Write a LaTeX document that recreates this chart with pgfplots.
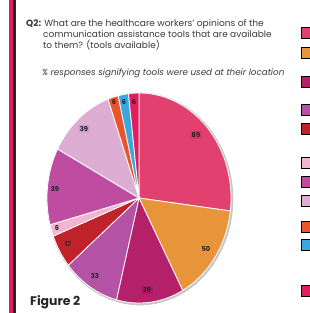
\documentclass[border=0pt]{standalone}
\usepackage{pgfplots}
\pgfplotsset{compat=1.18}
\usepackage{fontspec}
\setmainfont{Poppins}
\definecolor{s1}{HTML}{E2416F}
\definecolor{s2}{HTML}{E8943A}
\definecolor{s3}{HTML}{B5206A}
\definecolor{s4}{HTML}{B452A5}
\definecolor{s5}{HTML}{C0222B}
\definecolor{s6}{HTML}{F2B5CF}
\definecolor{s7}{HTML}{BE4CA0}
\definecolor{s8}{HTML}{DDADD3}
\definecolor{s9}{HTML}{E8542E}
\definecolor{s10}{HTML}{3AA8DE}
\definecolor{s11}{HTML}{E11D5E}
\definecolor{txt}{HTML}{3A3A3A}
\definecolor{bar}{HTML}{262626}
\begin{document}
\begin{tikzpicture}
\begin{axis}[
  scale only axis, width=310bp, height=313bp,
  xmin=0, xmax=310, ymin=0, ymax=313, y dir=reverse,
  hide axis, clip=true,
]
% left decorative bars (page border of the source)
\addplot[fill=s11, draw=s11, line width=0.5bp] coordinates {(9.5,-2) (12,-2) (12,315) (9.5,315)} -- cycle;
\addplot[fill=bar, draw=bar, line width=0.5bp] coordinates {(13,-2) (15.5,-2) (15.5,315) (13,315)} -- cycle;
% pie rim / shadow
\addplot[draw=black!22, line width=2.6bp, domain=0:360, samples=180] ({140+92*cos(x)},{199-105*sin(x)});
% slices (values: 89,50,39,33,17,6,39,39,6,6,6; total 330), clockwise from top
\addplot[fill=s1, draw=white, line width=0.8bp, domain={90-360*89/330}:{90-360*0/330}, samples=80] ({139+92*cos(x)},{198-105*sin(x)}) -- (axis cs:139,198) -- cycle;
\addplot[fill=s2, draw=white, line width=0.8bp, domain={90-360*139/330}:{90-360*89/330}, samples=60] ({139+92*cos(x)},{198-105*sin(x)}) -- (axis cs:139,198) -- cycle;
\addplot[fill=s3, draw=white, line width=0.8bp, domain={90-360*178/330}:{90-360*139/330}, samples=50] ({139+92*cos(x)},{198-105*sin(x)}) -- (axis cs:139,198) -- cycle;
\addplot[fill=s4, draw=white, line width=0.8bp, domain={90-360*211/330}:{90-360*178/330}, samples=40] ({139+92*cos(x)},{198-105*sin(x)}) -- (axis cs:139,198) -- cycle;
\addplot[fill=s5, draw=white, line width=0.8bp, domain={90-360*228/330}:{90-360*211/330}, samples=30] ({139+92*cos(x)},{198-105*sin(x)}) -- (axis cs:139,198) -- cycle;
\addplot[fill=s6, draw=white, line width=0.8bp, domain={90-360*234/330}:{90-360*228/330}, samples=12] ({139+92*cos(x)},{198-105*sin(x)}) -- (axis cs:139,198) -- cycle;
\addplot[fill=s7, draw=white, line width=0.8bp, domain={90-360*273/330}:{90-360*234/330}, samples=50] ({139+92*cos(x)},{198-105*sin(x)}) -- (axis cs:139,198) -- cycle;
\addplot[fill=s8, draw=white, line width=0.8bp, domain={90-360*312/330}:{90-360*273/330}, samples=50] ({139+92*cos(x)},{198-105*sin(x)}) -- (axis cs:139,198) -- cycle;
\addplot[fill=s9, draw=white, line width=0.8bp, domain={90-360*318/330}:{90-360*312/330}, samples=12] ({139+92*cos(x)},{198-105*sin(x)}) -- (axis cs:139,198) -- cycle;
\addplot[fill=s10, draw=white, line width=0.8bp, domain={90-360*324/330}:{90-360*318/330}, samples=12] ({139+92*cos(x)},{198-105*sin(x)}) -- (axis cs:139,198) -- cycle;
\addplot[fill=s11, draw=white, line width=0.8bp, domain={90-360*330/330}:{90-360*324/330}, samples=12] ({139+92*cos(x)},{198-105*sin(x)}) -- (axis cs:139,198) -- cycle;
% legend swatches (text cropped off the right edge)
\addplot[only marks, mark=square*, mark size=5.5bp, mark options={draw=none, fill=s1}] coordinates {(307,33)};
\addplot[only marks, mark=square*, mark size=5.5bp, mark options={draw=none, fill=s2}] coordinates {(307,53)};
\addplot[only marks, mark=square*, mark size=5.5bp, mark options={draw=none, fill=s3}] coordinates {(307,82)};
\addplot[only marks, mark=square*, mark size=5.5bp, mark options={draw=none, fill=s4}] coordinates {(307,110)};
\addplot[only marks, mark=square*, mark size=5.5bp, mark options={draw=none, fill=s5}] coordinates {(307,129)};
\addplot[only marks, mark=square*, mark size=5.5bp, mark options={draw=none, fill=s6}] coordinates {(307,163)};
\addplot[only marks, mark=square*, mark size=5.5bp, mark options={draw=none, fill=s7}] coordinates {(307,182)};
\addplot[only marks, mark=square*, mark size=5.5bp, mark options={draw=none, fill=s8}] coordinates {(307,201)};
\addplot[only marks, mark=square*, mark size=5.5bp, mark options={draw=none, fill=s9}] coordinates {(307,227)};
\addplot[only marks, mark=square*, mark size=5.5bp, mark options={draw=none, fill=s10}] coordinates {(307,245)};
\addplot[only marks, mark=square*, mark size=5.5bp, mark options={draw=none, fill=s11}] coordinates {(307,291)};
% value labels
\tikzset{vl/.style={font=\fontsize{6.8}{6.8}\selectfont\bfseries, text=black!85, inner sep=1.5bp}}
\node[vl, fill=black, fill opacity=0.08, text opacity=1] at (axis cs:196,135) {89};
\node[vl] at (axis cs:206,249) {50};
\node[vl, fill=black, fill opacity=0.08, text opacity=1] at (axis cs:147,290) {39};
\node[vl] at (axis cs:95,276) {33};
\node[vl] at (axis cs:68,244) {17};
\node[vl] at (axis cs:57,228) {6};
\node[vl] at (axis cs:55,189) {39};
\node[vl, fill=black, fill opacity=0.06, text opacity=1] at (axis cs:84,129) {39};
\node[vl] at (axis cs:114,102) {6};
\node[vl] at (axis cs:124,102) {6};
\node[vl] at (axis cs:134,102) {6};
% title text
\node[anchor=base west, inner sep=0, font=\fontsize{9.1}{9.1}\selectfont, text=txt] at (axis cs:26,27) {\textbf{Q2:} What are the healthcare workers’ opinions of the};
\node[anchor=base west, inner sep=0, font=\fontsize{9}{9}\selectfont, text=txt] at (axis cs:43,37.5) {communication assistance tools that are available};
\node[anchor=base west, inner sep=0, font=\fontsize{9}{9}\selectfont, text=txt] at (axis cs:43,48) {to them? (tools available)};
\node[anchor=base west, inner sep=0, font=\fontsize{8.8}{8.8}\selectfont\itshape, text=txt] at (axis cs:42,75.5) {\% responses signifying tools were used at their location};
\node[anchor=base west, inner sep=0, font=\fontsize{12.5}{12.5}\selectfont\bfseries, text=black!85] at (axis cs:30,305) {Figure 2};
\end{axis}
\pgfresetboundingbox
\path (current axis.south west) rectangle (current axis.north east);
\end{tikzpicture}
\end{document}
